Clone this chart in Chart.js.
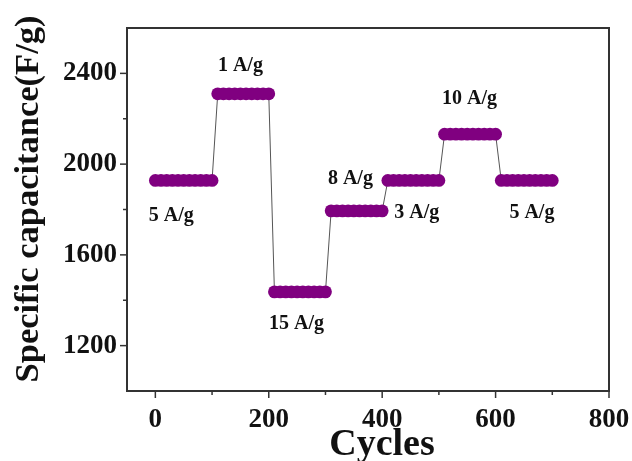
<!DOCTYPE html>
<html lang="en">
<head>
<meta charset="UTF-8">
<title>Rate capability</title>
<script src="https://cdn.jsdelivr.net/npm/chart.js"></script>
<style>
  html, body { margin: 0; padding: 0; background: #fff; }
</style>
</head>
<body>
<canvas id="rateChart" width="632" height="461"></canvas>
<script>
  // cycle number of each measured point
  const cycles = [
    0, 10, 20, 30, 40, 50, 60, 70, 80, 90, 100,
    110, 120, 130, 140, 150, 160, 170, 180, 190, 200,
    210, 220, 230, 240, 250, 260, 270, 280, 290, 300,
    310, 320, 330, 340, 350, 360, 370, 380, 390, 400,
    410, 420, 430, 440, 450, 460, 470, 480, 490, 500,
    510, 520, 530, 540, 550, 560, 570, 580, 590, 600,
    610, 620, 630, 640, 650, 660, 670, 680, 690, 700
  ];
  // specific capacitance (F/g) at each point
  const capacitance = [
    1928, 1928, 1928, 1928, 1928, 1928, 1928, 1928, 1928, 1928, 1928,
    2310, 2310, 2310, 2310, 2310, 2310, 2310, 2310, 2310, 2310,
    1437, 1437, 1437, 1437, 1437, 1437, 1437, 1437, 1437, 1437,
    1794, 1794, 1794, 1794, 1794, 1794, 1794, 1794, 1794, 1794,
    1928, 1928, 1928, 1928, 1928, 1928, 1928, 1928, 1928, 1928,
    2132, 2132, 2132, 2132, 2132, 2132, 2132, 2132, 2132, 2132,
    1928, 1928, 1928, 1928, 1928, 1928, 1928, 1928, 1928, 1928
  ];

  // current density labels and where they sit (data units)
  const currentDensity = ['5 A/g', '1 A/g', '15 A/g', '8 A/g', '3 A/g', '10 A/g', '5 A/g'];
  const labelCycle = [28, 150, 249, 344, 461, 554, 664];
  const labelCapacitance = [1772, 2434, 1295, 1935, 1785, 2289, 1785];

  // axis ticks (every other one gets a label)
  const xTicks = [0, 100, 200, 300, 400, 500, 600, 700, 800];
  const yTicks = [1200, 1400, 1600, 1800, 2000, 2200, 2400];

  const serif = '"Liberation Serif", "Times New Roman", serif';

  // box around the plot + outward tick marks
  const frameAndTicks = {
    id: 'frameAndTicks',
    afterDraw(chart) {
      const { ctx, chartArea: a, scales: { x, y } } = chart;
      ctx.save();
      ctx.strokeStyle = '#333';
      ctx.lineWidth = 2;
      ctx.strokeRect(a.left, a.top, a.right - a.left, a.bottom - a.top);
      ctx.lineWidth = 1.5;
      xTicks.forEach(v => {
        const px = x.getPixelForValue(v);
        const len = v % 200 === 0 ? 7 : 4;
        ctx.beginPath();
        ctx.moveTo(px, a.bottom);
        ctx.lineTo(px, a.bottom + len);
        ctx.stroke();
      });
      yTicks.forEach(v => {
        const py = y.getPixelForValue(v);
        const len = v % 400 === 0 ? 7 : 4;
        ctx.beginPath();
        ctx.moveTo(a.left, py);
        ctx.lineTo(a.left - len, py);
        ctx.stroke();
      });
      ctx.restore();
    }
  };

  // current density labels and axis titles
  const textLayer = {
    id: 'textLayer',
    afterDraw(chart) {
      const { ctx, scales: { x, y } } = chart;
      ctx.save();
      ctx.fillStyle = '#111';
      ctx.textAlign = 'center';
      ctx.textBaseline = 'middle';
      ctx.font = 'bold 20px ' + serif;
      currentDensity.forEach((t, i) => {
        ctx.fillText(t, x.getPixelForValue(labelCycle[i]), y.getPixelForValue(labelCapacitance[i]));
      });

      ctx.textBaseline = 'alphabetic';
      ctx.font = 'bold 38px ' + serif;
      ctx.fillText('Cycles', 382, 455);

      ctx.translate(38, 199);
      ctx.rotate(-Math.PI / 2);
      ctx.font = 'bold 34.5px ' + serif;
      ctx.fillText('Specific capacitance(F/g)', 0, 0);
      ctx.restore();
    }
  };

  const points = cycles.map((c, i) => ({ x: c, y: capacitance[i] }));

  new Chart(document.getElementById('rateChart'), {
    type: 'scatter',
    data: {
      datasets: [{
        data: points,
        showLine: true,
        borderColor: '#555',
        borderWidth: 1,
        pointRadius: 6.4,
        pointHoverRadius: 6.4,
        pointBorderWidth: 0,
        pointBackgroundColor: '#800080',
        pointBorderColor: '#800080'
      }]
    },
    options: {
      responsive: false,
      animation: false,
      layout: { padding: { top: 28, right: 23, left: 0, bottom: 0 } },
      plugins: {
        legend: { display: false },
        tooltip: { enabled: false }
      },
      scales: {
        x: {
          type: 'linear',
          min: -50,
          max: 800,
          grid: { display: false, drawTicks: false },
          border: { display: false },
          afterBuildTicks: s => { s.ticks = xTicks.map(v => ({ value: v })); },
          afterFit: s => { s.height = 70; s.paddingLeft = 0; s.paddingRight = 0; },
          ticks: {
            autoSkip: false,
            maxRotation: 0,
            padding: 13,
            color: '#111',
            font: { family: serif, size: 27, weight: 'bold' },
            callback: v => (v % 200 === 0 ? v : '')
          }
        },
        y: {
          min: 1000,
          max: 2600,
          grid: { display: false, drawTicks: false },
          border: { display: false },
          afterBuildTicks: s => { s.ticks = yTicks.map(v => ({ value: v })); },
          afterFit: s => { s.width = 127; s.paddingTop = 0; s.paddingBottom = 0; },
          ticks: {
            autoSkip: false,
            padding: 10,
            color: '#111',
            font: { family: serif, size: 27, weight: 'bold' },
            callback: v => (v % 400 === 0 ? v : '')
          }
        }
      }
    },
    plugins: [frameAndTicks, textLayer]
  });
</script>
</body>
</html>
